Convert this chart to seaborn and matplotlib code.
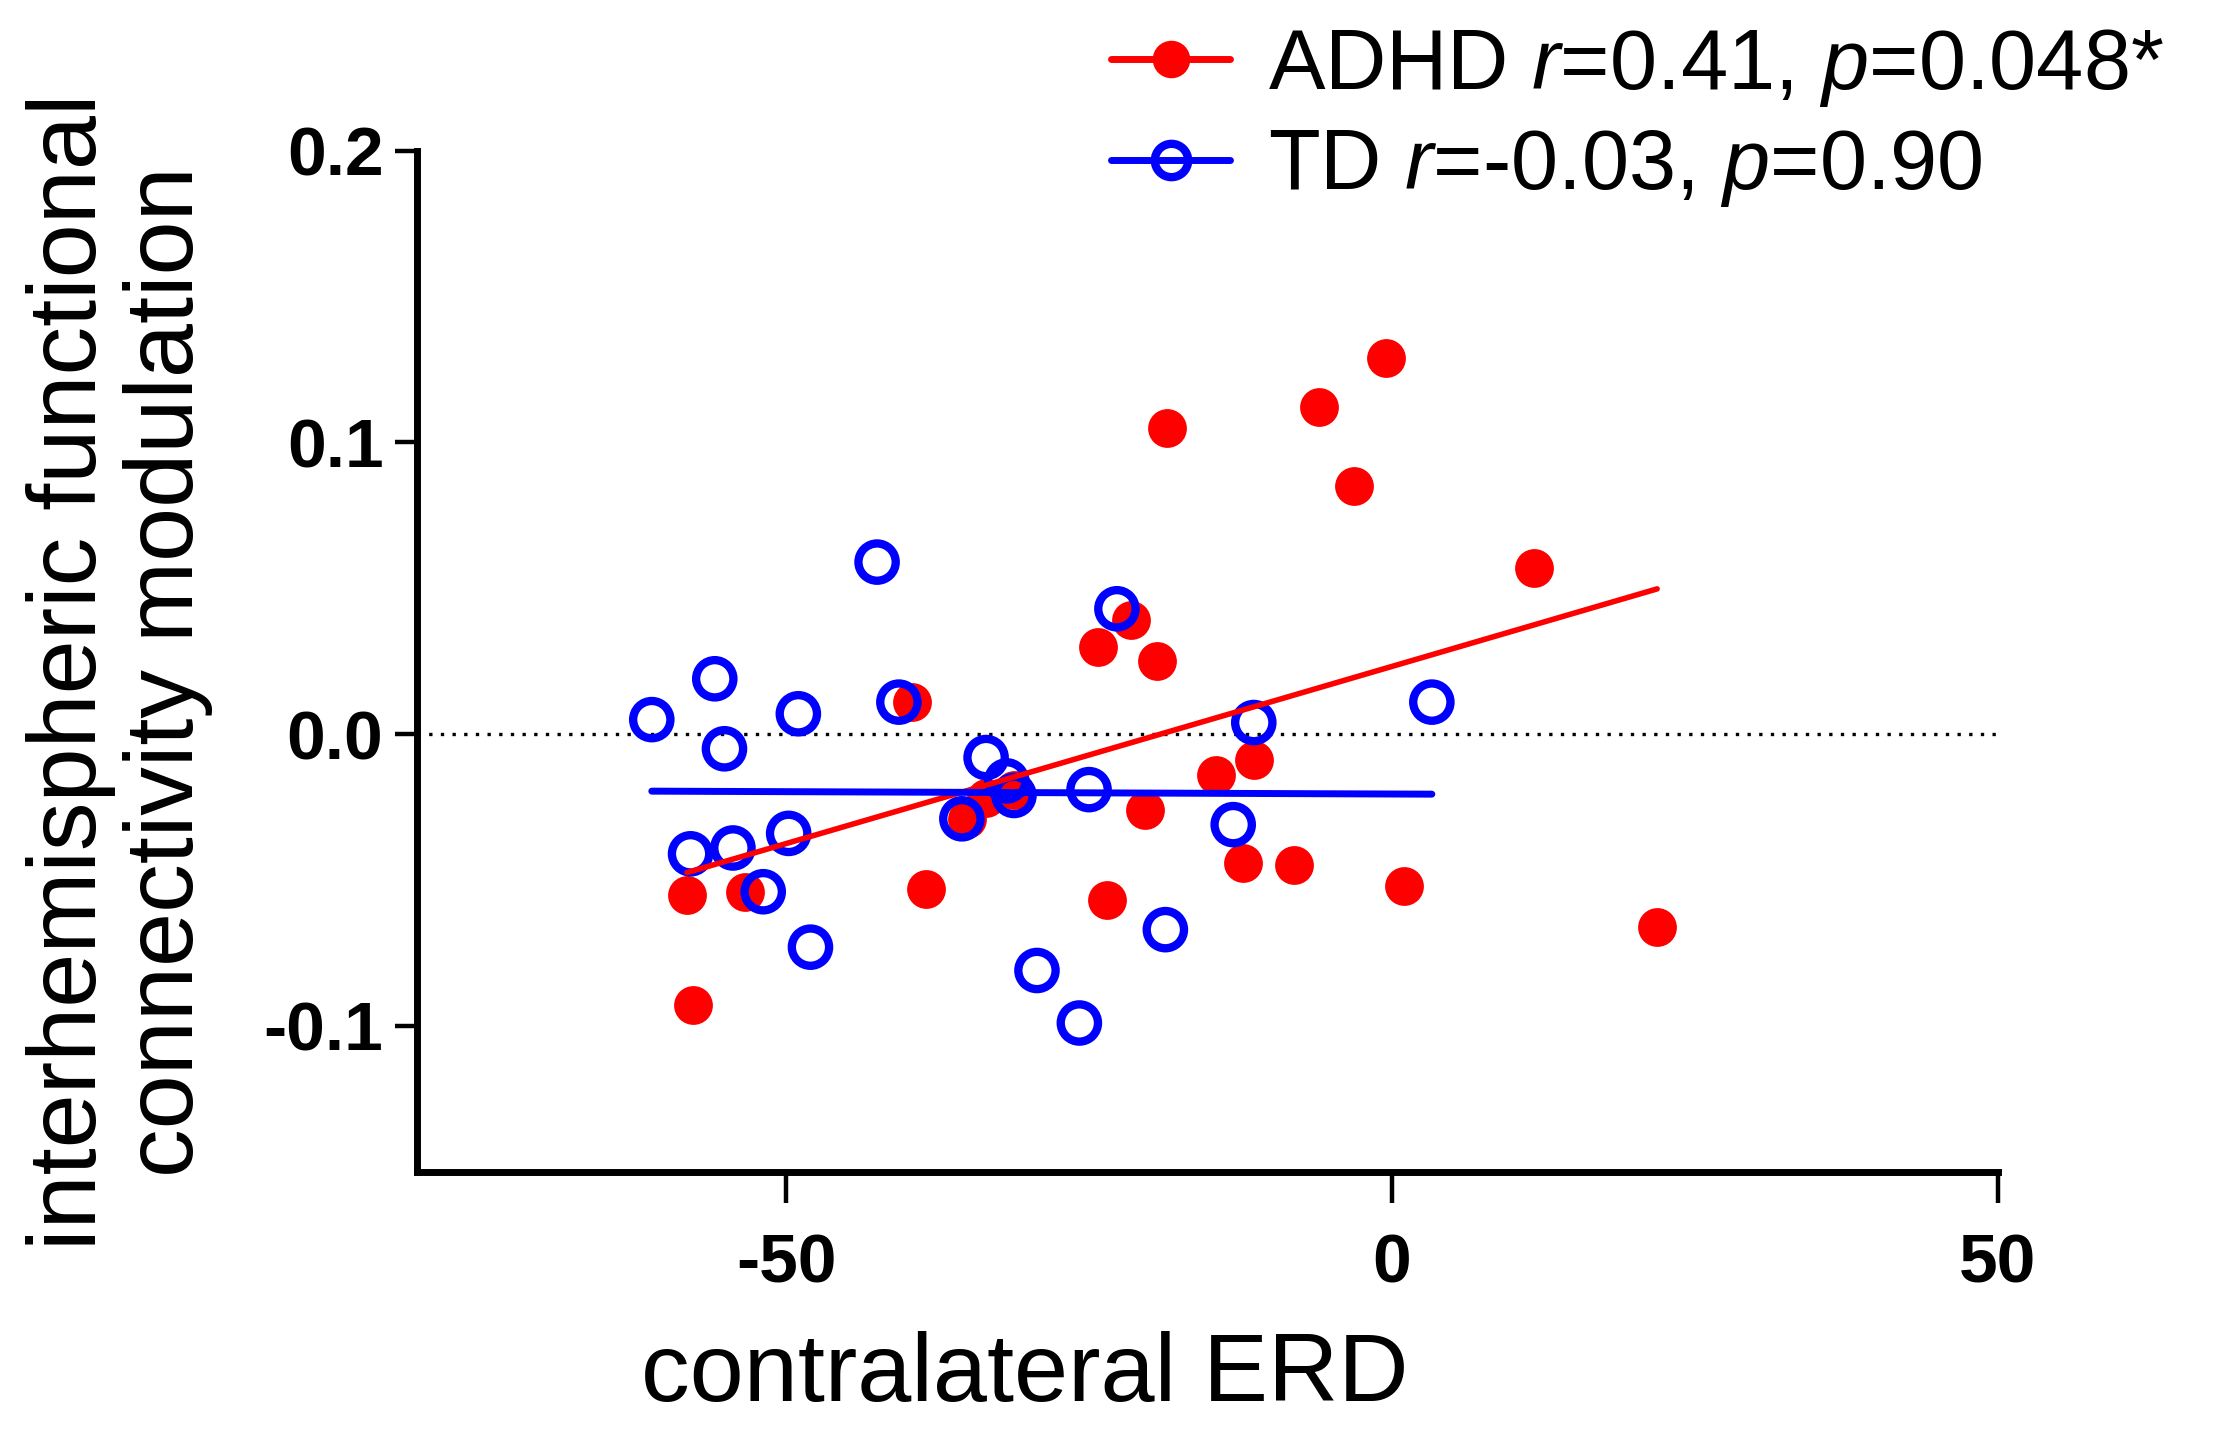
import numpy as np
import pandas as pd
import matplotlib
matplotlib.use("Agg")
import matplotlib.pyplot as plt
from matplotlib.lines import Line2D
import seaborn as sns

# values (contralateral ERD vs connectivity modulation)
adhd_erd = [-0.5, -6.0, -18.6, -3.1, 11.7, -21.5, -24.3, -19.4, -39.6, -14.5, -11.4, -20.4,
            -35.1, -31.2, -38.5, -58.2, -53.4, -57.7, -23.5, -12.3, -8.1, 1.0, 21.9, -33.5]
adhd_fc = [0.129, 0.112, 0.105, 0.085, 0.057, 0.039, 0.030, 0.025, 0.011, -0.014, -0.009, -0.026,
           -0.029, -0.019, -0.053, -0.055, -0.054, -0.093, -0.057, -0.044, -0.045, -0.052, -0.066, -0.022]
td_erd = [-42.5, -55.9, -61.1, -55.1, -49.0, -40.7, -22.7, -11.4, 3.3, -33.5, -31.8, -35.5,
          -31.2, -25.0, -13.1, -57.9, -54.4, -49.8, -51.9, -48.0, -29.3, -25.8, -18.7]
td_fc = [0.059, 0.019, 0.005, -0.005, 0.007, 0.011, 0.043, 0.004, 0.011, -0.008, -0.016, -0.029,
         -0.021, -0.019, -0.031, -0.041, -0.039, -0.034, -0.054, -0.073, -0.081, -0.099, -0.067]

groups = ["ADHD", "TD"]
legend_labels = ["ADHD $r$=0.41, $p$=0.048*", "TD $r$=-0.03, $p$=0.90"]
x_ticks = [-50, 0, 50]
y_ticks = [-0.1, 0.0, 0.1, 0.2]

df = pd.DataFrame({
    "erd": adhd_erd + td_erd,
    "fc": adhd_fc + td_fc,
    "group": ["ADHD"] * len(adhd_erd) + ["TD"] * len(td_erd),
})

sns.set_style("ticks", {"axes.edgecolor": "black", "text.color": "black",
                        "xtick.color": "black", "ytick.color": "black",
                        "axes.labelcolor": "black"})
plt.rcParams["font.family"] = ["Liberation Sans", "DejaVu Sans"]
plt.rcParams["mathtext.fontset"] = "custom"
plt.rcParams["mathtext.rm"] = "Liberation Sans"
plt.rcParams["mathtext.it"] = "Liberation Sans:italic"

red = "#ff0000"
blue = "#0000ff"

fig = plt.figure(figsize=(22.17, 14.36), dpi=100)
ax = fig.add_axes([0.188, 0.184, 0.713, 0.711])

ax.axhline(0, color="black", ls=(0, (1, 2.5)), lw=2.4, zorder=1)

adhd = df[df.group == "ADHD"]
td = df[df.group == "TD"]
sns.scatterplot(data=adhd, x="erd", y="fc", ax=ax, color=red, s=780,
                edgecolor=red, linewidth=0, zorder=2, legend=False)
sns.scatterplot(data=td, x="erd", y="fc", ax=ax, facecolor="none", s=720,
                edgecolor=blue, linewidth=6, zorder=3, legend=False)

# linear fits over each group's range
sns.regplot(data=adhd, x="erd", y="fc", ax=ax, scatter=False, ci=None,
            line_kws={"color": red, "lw": 4, "zorder": 4})
sns.regplot(data=td, x="erd", y="fc", ax=ax, scatter=False, ci=None,
            line_kws={"color": blue, "lw": 5, "zorder": 4})

ax.set_xlim(-80.5, 50)
ax.set_ylim(-0.15, 0.2)
ax.set_xticks(x_ticks)
ax.set_yticks(y_ticks)
ax.set_xticklabels([str(t) for t in x_ticks])
ax.set_yticklabels(["%.1f" % t for t in y_ticks])
ax.set_xlabel("")
ax.set_ylabel("")
sns.despine(ax=ax)
for s in ["left", "bottom"]:
    ax.spines[s].set_linewidth(5)
    ax.spines[s].set_color("black")
ax.tick_params(axis="x", length=22, width=3.2, pad=22, labelsize=50, colors="black")
ax.tick_params(axis="y", length=16, width=3.2, pad=8, labelsize=50, colors="black")
for lab in ax.get_xticklabels() + ax.get_yticklabels():
    lab.set_fontweight("bold")

fig.text(0.462, 0.042, "contralateral ERD", ha="center", va="center", fontsize=70,
         color="black")
fig.text(0.054, 0.532, "interhemispheric functional\nconnectivity modulation",
         ha="center", va="center", rotation=90, fontsize=70, linespacing=1.1, color="black")

handles = [
    Line2D([], [], color=red, lw=5, marker="o", markersize=26, markerfacecolor=red,
           markeredgecolor=red),
    Line2D([], [], color=blue, lw=5, marker="o", markersize=24, markerfacecolor="none",
           markeredgecolor=blue, markeredgewidth=6),
]
leg = fig.legend(handles, legend_labels, loc="upper left", bbox_to_anchor=(0.486, 1.005),
                 frameon=False, fontsize=61, handlelength=1.4, handletextpad=0.45,
                 labelspacing=0.22, borderaxespad=0)
for t in leg.get_texts():
    t.set_color("black")

fig.savefig("out.png", dpi=100, facecolor="white")
